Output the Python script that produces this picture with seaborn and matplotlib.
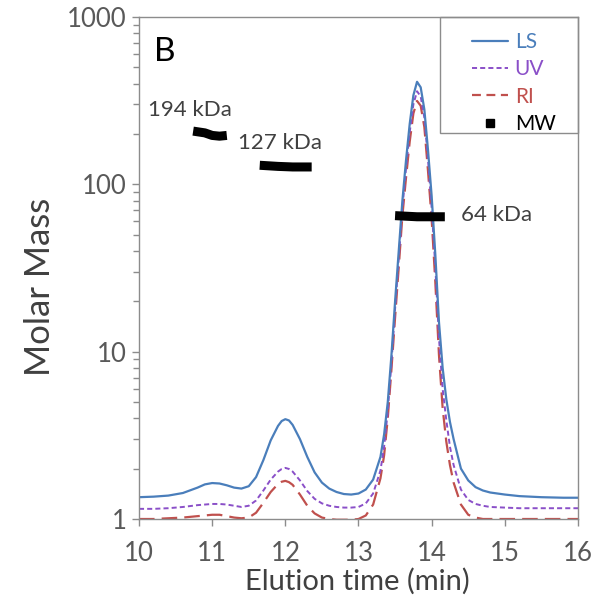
import numpy as np
import pandas as pd
import matplotlib
matplotlib.use("Agg")
import matplotlib.pyplot as plt
from matplotlib.lines import Line2D
from matplotlib.patches import Rectangle
import seaborn as sns

# ---- data ----
time = [10.0, 10.2, 10.4, 10.6, 10.8, 10.9, 11.0, 11.1, 11.2, 11.3, 11.4, 11.5, 11.6, 11.7,
        11.8, 11.9, 11.95, 12.0, 12.05, 12.1, 12.2, 12.3, 12.4, 12.5, 12.6, 12.7, 12.8, 12.9,
        13.0, 13.1, 13.2, 13.3, 13.35, 13.4, 13.45, 13.5, 13.55, 13.6, 13.65, 13.7, 13.75,
        13.8, 13.85, 13.9, 13.95, 14.0, 14.05, 14.1, 14.15, 14.2, 14.25, 14.3, 14.4, 14.5,
        14.6, 14.7, 14.8, 15.0, 15.2, 15.5, 15.8, 16.0]
ls = [1.35, 1.36, 1.38, 1.43, 1.54, 1.61, 1.64, 1.63, 1.59, 1.54, 1.52, 1.57, 1.78, 2.25,
      2.95, 3.6, 3.85, 3.95, 3.88, 3.65, 3.0, 2.35, 1.9, 1.65, 1.52, 1.45, 1.41, 1.40,
      1.42, 1.5, 1.72, 2.35, 3.2, 5.0, 9.5, 20, 40, 80, 140, 230, 340,
      410, 380, 280, 160, 85, 38, 15, 8.0, 5.2, 3.8, 3.0, 2.0, 1.7,
      1.55, 1.48, 1.44, 1.4, 1.37, 1.35, 1.34, 1.34]
uv = [1.15, 1.15, 1.16, 1.18, 1.21, 1.22, 1.23, 1.23, 1.22, 1.20, 1.18, 1.20, 1.29, 1.48,
      1.72, 1.92, 1.99, 2.02, 1.99, 1.92, 1.70, 1.47, 1.32, 1.24, 1.20, 1.18, 1.17, 1.17,
      1.18, 1.24, 1.42, 1.95, 2.7, 4.4, 8.5, 18, 36, 72, 125, 205, 300,
      360, 335, 250, 140, 72, 32, 12, 6.0, 3.9, 2.7, 2.1, 1.5, 1.3,
      1.23, 1.2, 1.18, 1.17, 1.16, 1.16, 1.16, 1.16]
ri = [1.0, 1.0, 1.01, 1.02, 1.04, 1.05, 1.06, 1.06, 1.04, 1.02, 1.01, 1.02, 1.09, 1.25,
      1.45, 1.62, 1.67, 1.69, 1.66, 1.60, 1.40, 1.20, 1.08, 1.02, 1.0, 0.99, 0.99, 0.99,
      1.0, 1.05, 1.22, 1.75, 2.4, 4.0, 7.8, 16, 32, 65, 110, 180, 265,
      315, 295, 220, 120, 62, 26, 9.5, 4.6, 2.9, 2.1, 1.65, 1.22, 1.06,
      1.02, 1.0, 1.0, 1.0, 1.0, 1.0, 1.0, 1.0]

mw_seg1_t = [10.74, 10.9, 11.0, 11.1, 11.2]
mw_seg1_v = [208, 203, 196, 194, 196]
mw_seg2_t = [11.65, 11.9, 12.1, 12.36]
mw_seg2_v = [130, 128, 127, 127]
mw_seg3_t = [13.5, 13.8, 14.18]
mw_seg3_v = [65, 64, 64]

labels_kda = ["194 kDa", "127 kDa", "64 kDa"]

colors = {"LS": "#4a7ebb", "UV": "#8a4fc8", "RI": "#c0504d"}

df = pd.DataFrame({"time": time * 3,
                   "value": ls + uv + ri,
                   "signal": ["LS"] * len(time) + ["UV"] * len(time) + ["RI"] * len(time)})

sns.set_theme(style="white")
plt.rcParams["font.family"] = ["Lato", "DejaVu Sans"]

fig = plt.figure(figsize=(6.08, 6.04), dpi=100)
ax = fig.add_axes([139 / 608, 1 - 519 / 604, (578 - 139) / 608, (519 - 17) / 604])

dashes = {"LS": "", "UV": (2.6, 1.6), "RI": (7, 3.2)}
widths = {"LS": 1.6, "UV": 1.4, "RI": 1.6}
order = ["RI", "UV", "LS"]
for sig in order:
    sub = df[df.signal == sig]
    sns.lineplot(data=sub, x="time", y="value", ax=ax, color=colors[sig],
                 lw=widths[sig], legend=False, sort=False)
for line, sig in zip(ax.lines, order):
    if dashes[sig]:
        line.set_dashes(dashes[sig])

for t, v in [(mw_seg1_t, mw_seg1_v), (mw_seg2_t, mw_seg2_v), (mw_seg3_t, mw_seg3_v)]:
    ax.plot(t, v, color="black", lw=6.5, solid_capstyle="butt", zorder=5)

ax.set_yscale("log")
ax.set_xlim(10, 16)
ax.set_ylim(1, 1000)
ax.set_xticks(range(10, 17))
ax.set_yticks([1, 10, 100, 1000])
ax.set_yticklabels(["1", "10", "100", "1000"])

for s in ax.spines.values():
    s.set_color("#8c8c8c")
    s.set_linewidth(1.0)
ax.tick_params(axis="both", which="major", direction="out", length=5, width=1,
               color="#8c8c8c", labelsize=18.5, labelcolor="#595959", bottom=True, left=True)
ax.tick_params(axis="y", which="minor", direction="out", length=4, width=1,
               color="#8c8c8c", left=True)
ax.tick_params(axis="x", pad=11)
ax.tick_params(axis="y", pad=4)
ax.set_xlabel("Elution time (min)", fontsize=21, color="#404040")
ax.set_ylabel("Molar Mass", fontsize=25, color="#404040")
ax.xaxis.set_label_coords(0.497, -0.097)
ax.yaxis.set_label_coords(-0.19, 0.462)

ax.text(0.035, 0.96, "B", transform=ax.transAxes, fontsize=24, color="black",
        ha="left", va="top")
ax.text(10.12, 280, labels_kda[0], fontsize=16, color="#404040", ha="left", va="center")
ax.text(11.35, 176, labels_kda[1], fontsize=16, color="#404040", ha="left", va="center")
ax.text(14.4, 66, labels_kda[2], fontsize=16, color="#404040", ha="left", va="center")

handles = [Line2D([], [], color=colors["LS"], lw=1.6),
           Line2D([], [], color=colors["UV"], lw=1.4, dashes=(2.6, 1.6)),
           Line2D([], [], color=colors["RI"], lw=1.6, dashes=(4, 2.5)),
           Line2D([], [], color="black", marker="s", ms=6, lw=0)]
leg = ax.legend(handles, ["LS", "UV", "RI", "MW"], loc="upper left",
                bbox_to_anchor=((472 - 139) / 439, 1 - 15 / 502), frameon=False,
                fontsize=15, handlelength=1.75, handletextpad=0.3, labelspacing=0.35,
                borderpad=0, borderaxespad=0)
for txt, c in zip(leg.get_texts(), [colors["LS"], colors["UV"], colors["RI"], "black"]):
    txt.set_color(c)
ax.add_patch(Rectangle(((440 - 139) / 439, 1 - (133 - 17) / 502), (578 - 440) / 439,
                       (133 - 17) / 502, transform=ax.transAxes, fill=False,
                       edgecolor="#8c8c8c", lw=1, zorder=6, clip_on=False))

fig.savefig("out.png", dpi=100)
